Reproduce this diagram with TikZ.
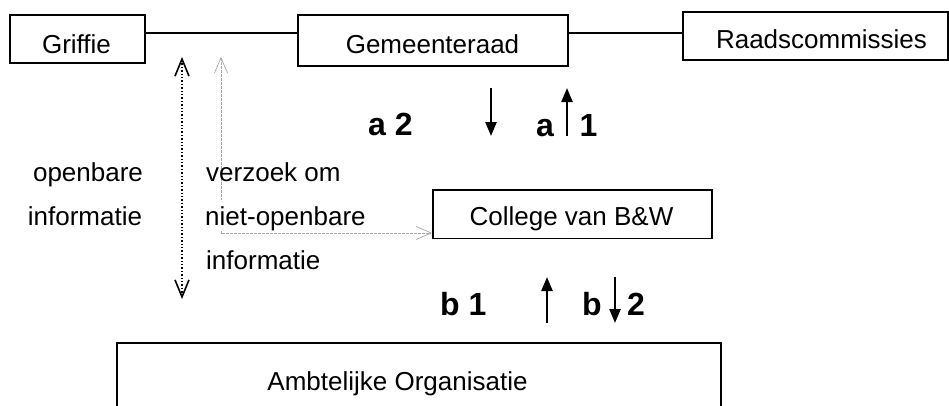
\documentclass[tikz,border=0pt]{standalone}
\usepackage{fontspec}
\setmainfont{Liberation Sans}
\usetikzlibrary{arrows.meta}

\tikzset{
  box/.style={draw=black, line width=1.5pt, rectangle, inner sep=0pt},
  txt/.style={inner sep=0pt, anchor=base, font=\fontsize{26}{31}\selectfont},
  txtl/.style={txt, anchor=base west},
  lbl/.style={inner sep=0pt, anchor=base west, font=\fontsize{32}{38}\selectfont\bfseries},
  link/.style={draw=black, line width=1.5pt},
  flow/.style={draw=black, line width=2.4pt, -{Triangle[length=14pt,width=11pt]}},
  publicinfo/.style={draw=black, line width=1.4pt, dash pattern=on 1.4pt off 2pt,
    {Straight Barb[length=17pt,width=14pt,line width=1.6pt]}-{Straight Barb[length=17pt,width=14pt,line width=1.6pt]}},
  request/.style={draw=black!35, line width=0.7pt, dash pattern=on 3pt off 1pt,
    {Straight Barb[length=15pt,width=13pt,line width=0.7pt]}-{Straight Barb[length=15pt,width=13pt,line width=0.7pt]}}
}

\begin{document}
\begin{tikzpicture}[x=1pt,y=-1pt]
  \clip (0,0) rectangle (949,405);
  \fill[white] (0,0) rectangle (949,405);

  % boxes
  \node[box, minimum width=135pt, minimum height=48pt] (griffie) at (77.5,39) {};
  \node[box, minimum width=270pt, minimum height=51pt] (raad) at (433,40.5) {};
  \node[box, minimum width=265pt, minimum height=48pt] (comm) at (815.5,36) {};
  \node[box, minimum width=279pt, minimum height=48.5pt] (college) at (572.3,214.3) {};
  \node[box, minimum width=604pt, minimum height=90pt] (ambt) at (419,388) {};

  % box texts
  \node[txt] (tgriffie) at (76.5,53.3) {Griffie};
  \node[txt] (traad) at (432.5,53) {Gemeenteraad};
  \node[txt] (tcomm) at (821.5,48.3) {Raadscommissies};
  \node[txt] (tcollege) at (571.5,225.7) {College van B\&W};
  \node[txt] (tambt) at (397.5,390) {Ambtelijke Organisatie};

  % links between the council boxes
  \draw[link] (griffie.east |- 0,33) -- (raad.west |- 0,33);
  \draw[link] (raad.east |- 0,33) -- (comm.west |- 0,33);

  % public information (dotted, both ways)
  \coordinate (pubtop) at (182,57);
  \coordinate (pubbot) at (182,299);
  \draw[publicinfo] (pubtop) -- (pubbot);

  % request for non-public information
  \coordinate (reqtop) at (221,57);
  \draw[request] (reqtop) |- (college.west |- 0,233);

  % side texts
  \node[txt] (topen1) at (88,181) {openbare};
  \node[txt] (topen2) at (85,225) {informatie};
  \node[txtl] (treq1) at (206,181) {verzoek om};
  \node[txtl, fill=white, inner ysep=6pt, text depth=0pt] (treq2) at (205,225) {niet-openbare};
  \node[txtl] (treq3) at (206,269) {informatie};

  % council <-> executive
  \coordinate (a2s) at (491,88);  \coordinate (a2e) at (491,136);
  \coordinate (a1s) at (567,136); \coordinate (a1e) at (567,88);
  \draw[flow] (a2s) -- (a2e);
  \draw[flow] (a1s) -- (a1e);
  \node[lbl] (la2) at (368,135) {a 2};
  \node[lbl] (la) at (536,136) {a};
  \node[lbl] (l1) at (579.5,136) {1};

  % executive <-> organisation
  \coordinate (b1s) at (547,323); \coordinate (b1e) at (547,277);
  \coordinate (b2s) at (615,277); \coordinate (b2e) at (615,323);
  \draw[flow] (b1s) -- (b1e);
  \draw[flow] (b2s) -- (b2e);
  \node[lbl] (lb1) at (440,315) {b 1};
  \node[lbl] (lb) at (582,315) {b};
  \node[lbl] (l2) at (627,315) {2};
\end{tikzpicture}
\end{document}
